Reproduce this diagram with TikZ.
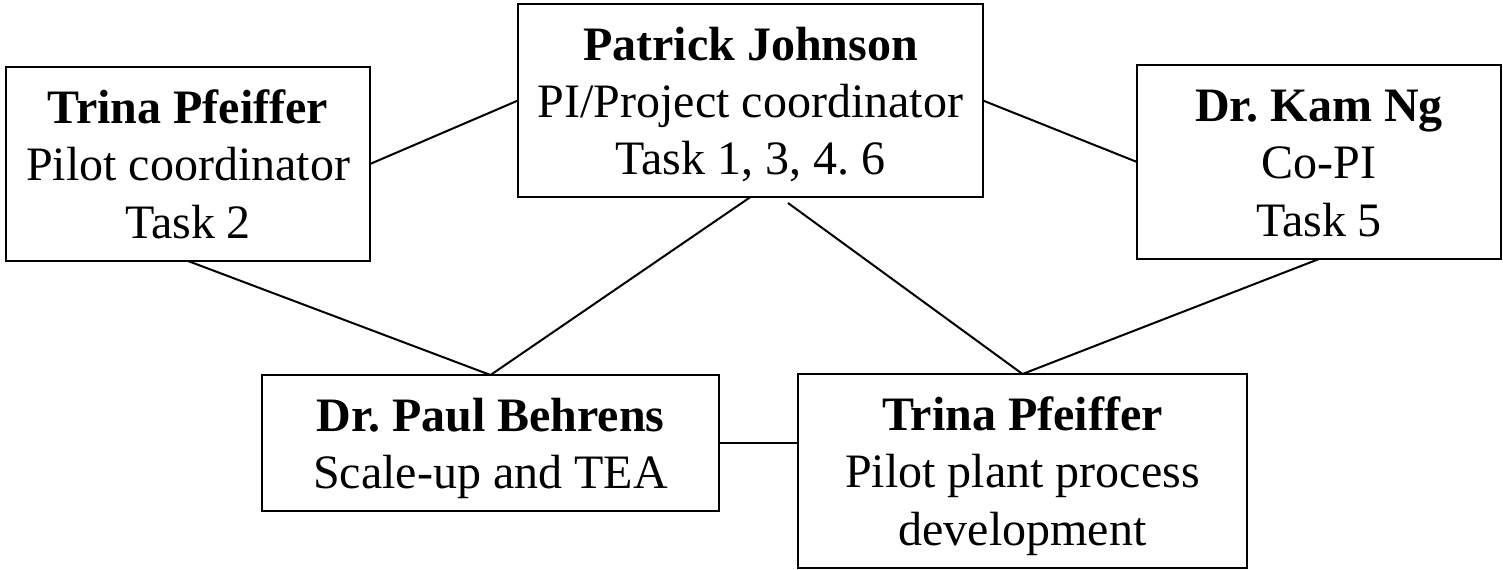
\documentclass[tikz,border=0pt]{standalone}
\usepackage{fontspec}
\setmainfont{Liberation Serif}
% centred stack of lines, with a little extra room above it
\newcommand{\boxlines}[1]{\raisebox{0pt}[\dimexpr\height+5.5pt\relax][\depth]{\begin{tabular}{@{}c@{}}#1\end{tabular}}}
\begin{document}
\begin{tikzpicture}[x=0.5pt,y=-0.5pt,
  person/.style={draw=black, line width=1.2pt, inner sep=0pt, outer sep=0pt,
    font=\fontsize{24pt}{28.6pt}\selectfont},
  link/.style={draw=black, line width=1pt}]
  \useasboundingbox (0,0) rectangle (1503,569);
  % boxes (centres in pixel units)
  \node[person, minimum width=182pt, minimum height=97pt] (trina1) at (188,164)
    {\boxlines{\textbf{Trina Pfeiffer}\\Pilot coordinator\\Task 2}};
  \node[person, minimum width=232.5pt, minimum height=96.5pt] (patrick) at (750.5,100.5)
    {\boxlines{\textbf{Patrick Johnson}\\PI/Project coordinator\\Task 1, 3, 4.\ 6}};
  \node[person, minimum width=182pt, minimum height=97pt] (kam) at (1319,162)
    {\boxlines{\textbf{Dr.\ Kam Ng}\\Co-PI\\Task 5}};
  \node[person, minimum width=228.5pt, minimum height=68pt] (paul) at (490.5,443)
    {\boxlines{\textbf{Dr.\ Paul Behrens}\\Scale-up and TEA}};
  \node[person, minimum width=224.5pt, minimum height=97pt] (trina2) at (1022.5,471)
    {\boxlines{\textbf{Trina Pfeiffer}\\Pilot plant process\\development}};
  % free end of the line towards the pilot plant box
  \coordinate (pjsplit) at (788,203);
  % connectors
  \draw[link] (trina1.east) -- (patrick.west);
  \draw[link] (patrick.east) -- (kam.west);
  \draw[link] (trina1.south) -- (paul.north);
  \draw[link] (patrick.south) -- (paul.north);
  \draw[link] (pjsplit) -- (trina2.north);
  \draw[link] (kam.south) -- (trina2.north);
  \draw[link] (paul.east) -- (paul.east -| trina2.west);
\end{tikzpicture}
\end{document}
